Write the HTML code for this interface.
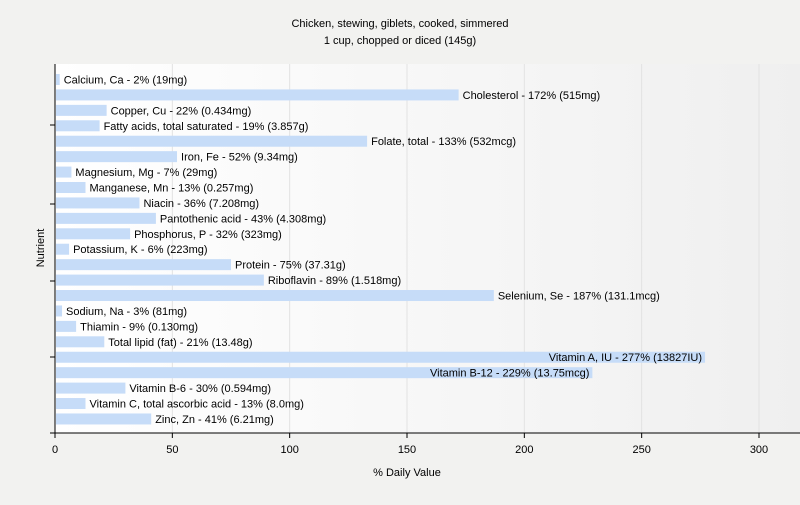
<!DOCTYPE html>
<html><head><meta charset="utf-8"><style>
body{margin:0;background:#f2f2f0;font-family:"Liberation Sans",sans-serif;}
svg text{font-family:"Liberation Sans",sans-serif;font-size:11px;fill:#000;}
</style></head><body>
<svg id="chart" width="800" height="500">
<defs><linearGradient id="bg" x1="0" x2="1" y1="0" y2="0"><stop offset="0" stop-color="#ffffff"/><stop offset="1" stop-color="#efefef"/></linearGradient></defs>
<rect x="0" y="0" width="800" height="500" fill="#f2f2f0"/>
<rect x="55" y="64" width="745" height="369" fill="url(#bg)"/>
<text x="400" y="27" text-anchor="middle" font-size="12">Chicken, stewing, giblets, cooked, simmered</text>
<text x="400" y="44" text-anchor="middle" font-size="12">1 cup, chopped or diced (145g)</text>
<g id="grid"></g><g id="bars"></g><g id="axes"></g>
<text x="407" y="476" text-anchor="middle">% Daily Value</text>
<text transform="translate(44,248) rotate(-90)" text-anchor="middle">Nutrient</text>
</svg>
<script>
const categories=["Calcium, Ca","Cholesterol","Copper, Cu","Fatty acids, total saturated","Folate, total","Iron, Fe","Magnesium, Mg","Manganese, Mn","Niacin","Pantothenic acid","Phosphorus, P","Potassium, K","Protein","Riboflavin","Selenium, Se","Sodium, Na","Thiamin","Total lipid (fat)","Vitamin A, IU","Vitamin B-12","Vitamin B-6","Vitamin C, total ascorbic acid","Zinc, Zn"];
const values=[2,172,22,19,133,52,7,13,36,43,32,6,75,89,187,3,9,21,277,229,30,13,41];
const amounts=["19mg","515mg","0.434mg","3.857g","532mcg","9.34mg","29mg","0.257mg","7.208mg","4.308mg","323mg","223mg","37.31g","1.518mg","131.1mcg","81mg","0.130mg","13.48g","13827IU","13.75mcg","0.594mg","8.0mg","6.21mg"];
const xTicks=[0,50,100,150,200,250,300];
const NS="http://www.w3.org/2000/svg";
const x0=55,x1=759,top0=79.5,step=15.43,bh=11;
const xs=v=>x0+(v/300)*(x1-x0);
const ys=i=>top0+i*step;
function mk(t,a,p){const e=document.createElementNS(NS,t);for(const k in a)e.setAttribute(k,a[k]);p.appendChild(e);return e;}
const grid=document.getElementById('grid'),bars=document.getElementById('bars'),axes=document.getElementById('axes');
xTicks.forEach(t=>{
 if(t>0){const g=mk('line',{x1:xs(t),x2:xs(t),y1:64,y2:433,stroke:'#e2e2e2'},grid);
 
 }
 const tk=mk('line',{x1:xs(t),x2:xs(t),y1:433,y2:438,stroke:'#000'},axes);
 
 
 const tl=mk('text',{x:xs(t),y:453,'text-anchor':'middle','font-size':'12'},axes);tl.textContent=t;
 
 
});
categories.forEach((c,i)=>{
 const y=ys(i);
 const r=mk('rect',{x:x0+1,y:y-bh/2,width:Math.max(0,xs(values[i])-x0-1),height:bh,fill:'#c6dcf8'},bars);
 
 
 const label=c+' - '+values[i]+'% ('+amounts[i]+')';
 const inside=values[i]>200;
 const t=mk('text',{x:inside?xs(values[i])-3:xs(values[i])+4,y:y+4,'text-anchor':inside?'end':'start'},bars);
 t.textContent=label;
 
 
});
const ya=mk('line',{x1:x0,x2:x0,y1:64,y2:433,stroke:'#000'},axes);


const xa=mk('line',{x1:x0-5,x2:800,y1:433,y2:433,stroke:'#000'},axes);


[125,204,281,357].forEach((yy,k)=>{
 const l=mk('line',{x1:x0-5,x2:x0,y1:yy,y2:yy,stroke:'#000'},axes);
 
 
});
</script>
</body></html>
